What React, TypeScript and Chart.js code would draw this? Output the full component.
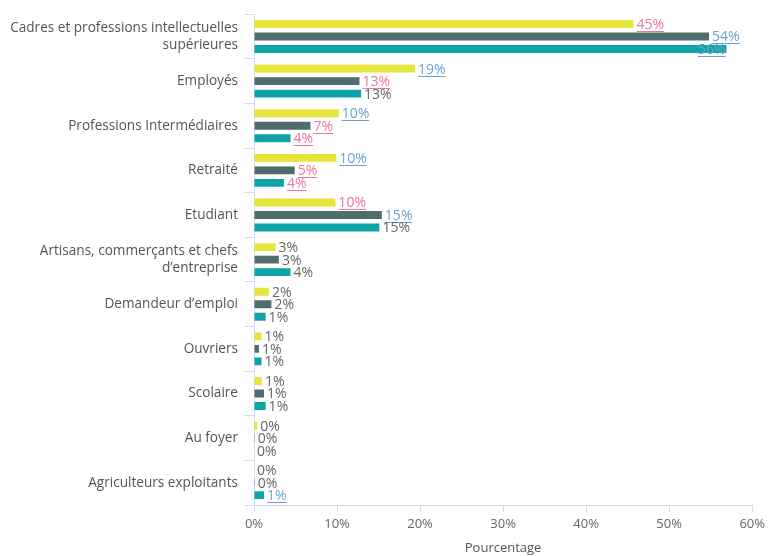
import React, { useEffect, useRef } from "react";
import { Chart, registerables } from "chart.js";

Chart.register(...registerables);

const categories: (string | string[])[] = [
  ["Cadres et professions intellectuelles", "supérieures"],
  "Employés",
  "Professions Intermédiaires",
  "Retraité",
  "Etudiant",
  ["Artisans, commerçants et chefs", "d’entreprise"],
  "Demandeur d’emploi",
  "Ouvriers",
  "Scolaire",
  "Au foyer",
  "Agriculteurs exploitants",
];

const seriesA = [45.7, 19.4, 10.2, 9.9, 9.8, 2.6, 1.8, 0.9, 0.95, 0.4, 0.0];
const seriesB = [54.8, 12.7, 6.8, 4.9, 15.4, 3.0, 2.1, 0.6, 1.2, 0.1, 0.1];
const seriesC = [56.9, 12.9, 4.4, 3.6, 15.1, 4.4, 1.4, 0.9, 1.4, 0.0, 1.2];

const labelsA = ["45%", "19%", "10%", "10%", "10%", "3%", "2%", "1%", "1%", "0%", "0%"];
const labelsB = ["54%", "13%", "7%", "5%", "15%", "3%", "2%", "1%", "1%", "0%", "0%"];
const labelsC = ["56%", "13%", "4%", "4%", "15%", "4%", "1%", "1%", "1%", "0%", "1%"];

// h = higher (blue), l = lower (pink), n = neutral (grey)
const marksA = ["l", "h", "h", "h", "l", "n", "n", "n", "n", "n", "n"];
const marksB = ["h", "l", "l", "l", "h", "n", "n", "n", "n", "n", "n"];
const marksC = ["h", "n", "l", "l", "n", "n", "n", "n", "n", "n", "h"];

const xTicks = [0, 10, 20, 30, 40, 50, 60];

const FONT = "'Open Sans'";
const markColor: Record<string, string> = { h: "#6aa3cf", l: "#e9779f", n: "#666666" };

const labelPlugin = {
  id: "barLabels",
  afterDatasetsDraw(chart: any) {
    const ctx = chart.ctx;
    const texts = [labelsA, labelsB, labelsC];
    const marks = [marksA, marksB, marksC];
    ctx.save();
    ctx.font = `14px ${FONT}`;
    ctx.textBaseline = "middle";
    ctx.textAlign = "left";
    chart.data.datasets.forEach((_ds: any, di: number) => {
      const meta = chart.getDatasetMeta(di);
      meta.data.forEach((bar: any, i: number) => {
        const t = texts[di][i];
        const m = marks[di][i];
        const w = ctx.measureText(t).width;
        let x = bar.x + 3;
        if (x + w > chart.chartArea.right) x = bar.x - w - 1;
        const y = bar.y + 1;
        ctx.fillStyle = markColor[m];
        ctx.fillText(t, x, y);
        if (m !== "n") {
          ctx.strokeStyle = markColor[m];
          ctx.lineWidth = 1;
          ctx.beginPath();
          ctx.moveTo(x, Math.round(y + 6) + 0.5);
          ctx.lineTo(x + w, Math.round(y + 6) + 0.5);
          ctx.stroke();
        }
      });
    });
    ctx.restore();
  },
};

export default function App() {
  const ref = useRef<HTMLCanvasElement>(null);
  useEffect(() => {
    document.body.style.margin = "0";
    const chart = new Chart(ref.current!, {
      type: "bar",
      data: {
        labels: categories,
        datasets: [
          { label: "A", data: seriesA, backgroundColor: "#e6e63a" },
          { label: "B", data: seriesB, backgroundColor: "#4f6d6d" },
          { label: "C", data: seriesC, backgroundColor: "#0ea3a7" },
        ],
      },
      options: {
        indexAxis: "y",
        animation: false,
        responsive: false,
        maintainAspectRatio: false,
        layout: { padding: { top: 10, right: 4, left: 0, bottom: 0 } },
        datasets: { bar: { categoryPercentage: 0.84, barPercentage: 0.63 } },
        plugins: { legend: { display: false }, tooltip: { enabled: false } },
        scales: {
          x: {
            min: 0,
            max: 60,
            afterBuildTicks: (s: any) => {
              s.ticks = xTicks.map((v) => ({ value: v }));
            },
            afterFit: (s: any) => {
              s.height = 51;
            },
            ticks: {
              callback: (v: any) => v + "%",
              color: "#666666",
              font: { family: FONT, size: 13 },
              padding: 4,
              maxRotation: 0,
            },
            grid: { drawOnChartArea: false, color: "#d3ddef", tickLength: 7 },
            border: { color: "#d3ddef" },
            title: {
              display: true,
              text: "Pourcentage",
              color: "#555555",
              font: { family: FONT, size: 13 },
              padding: { top: 0, bottom: 0 },
            },
          },
          y: {
            afterFit: (s: any) => {
              s.width = 254;
            },
            ticks: {
              color: "#555555",
              font: { family: FONT, size: 13.6 },
              padding: 6,
            },
            grid: { drawOnChartArea: false, color: "#d3ddef", tickLength: 10, offset: true },
            border: { color: "#d3ddef" },
          },
        },
      },
      plugins: [labelPlugin],
    });
    return () => chart.destroy();
  }, []);
  return (
    <div style={{ position: "fixed", left: 0, top: 0, width: 769, height: 556 }}>
      <canvas ref={ref} width={769} height={556} style={{ width: 769, height: 556 }} />
    </div>
  );
}
